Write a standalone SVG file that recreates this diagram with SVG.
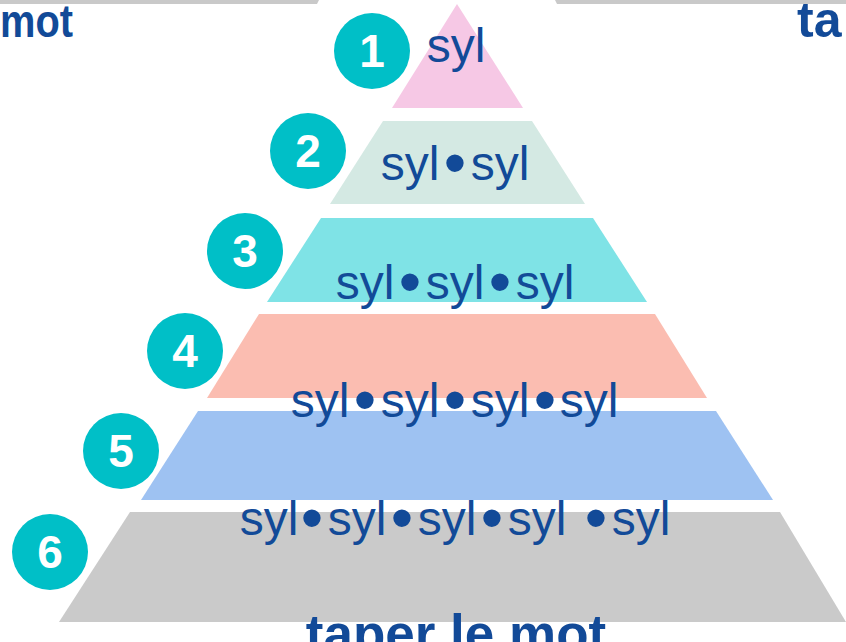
<svg xmlns="http://www.w3.org/2000/svg" width="846" height="642" viewBox="0 0 846 642">
<style>
.syl{font-family:"Liberation Sans",Arial,sans-serif;font-size:48px;fill:#124a98;text-anchor:middle}
.dot{font-family:"Liberation Sans",Arial,sans-serif;font-size:64px;fill:#124a98;text-anchor:middle}
.num{font-family:"Liberation Sans",Arial,sans-serif;font-weight:bold;font-size:46px;fill:#ffffff;text-anchor:middle}
.badge{fill:#00bfc7}
.big{font-family:"Liberation Sans",Arial,sans-serif;font-weight:bold;fill:#124a98}
</style>
<rect width="846" height="642" fill="#ffffff"/>
<g id="edges-top">
<polygon points="0,0 319,0 317,4 0,4" fill="#c9c9c9"/>
<polygon points="555,0 846,0 846,4 557,4" fill="#c9c9c9"/>
<text class="big" x="0" y="37" font-size="46" textLength="73" lengthAdjust="spacingAndGlyphs">mot</text>
<text class="big" x="797" y="37" font-size="50">ta</text>
</g>
<g id="tier6">
<polygon points="130,512 780,512 846,622 59,622" fill="#cacaca"/>
<circle class="badge" cx="50" cy="552" r="38"/>
<text class="num" x="50" y="568">6</text>
</g>
<g id="tier5">
<polygon points="198,411 716,411 773,500 141,500" fill="#9ec2f2"/>
<circle class="badge" cx="121" cy="451" r="38"/>
<text class="num" x="121" y="467">5</text>
</g>
<g id="tier4">
<polygon points="259,314 655,314 707,398 207,398" fill="#fbbdb1"/>
<circle class="badge" cx="185" cy="351" r="38"/>
<text class="num" x="185" y="367">4</text>
</g>
<g id="tier3">
<polygon points="321,218 593,218 647,302 267,302" fill="#7fe3e6"/>
<circle class="badge" cx="245" cy="251" r="38"/>
<text class="num" x="245" y="267">3</text>
</g>
<g id="tier2">
<polygon points="383,121 532,121 585,204 330,204" fill="#d4e9e3"/>
<circle class="badge" cx="308" cy="151" r="38"/>
<text class="num" x="308" y="167">2</text>
</g>
<g id="tier1">
<polygon points="457,4 523,108 392,108" fill="#f6c8e5"/>
<circle class="badge" cx="372" cy="51" r="38"/>
<text class="num" x="372" y="67">1</text>
</g>
<g id="labels">
<text class="syl" y="62"><tspan x="456">syl</tspan></text>
<text class="syl" y="180"><tspan x="410">syl</tspan><tspan x="500">syl</tspan></text>
<text class="dot" x="455" y="185">•</text>
<text class="syl" y="299"><tspan x="365">syl</tspan><tspan x="455">syl</tspan><tspan x="545">syl</tspan></text>
<text class="dot" y="304"><tspan x="410">•</tspan><tspan x="500">•</tspan></text>
<text class="syl" y="417"><tspan x="320">syl</tspan><tspan x="410">syl</tspan><tspan x="500">syl</tspan><tspan x="589">syl</tspan></text>
<text class="dot" y="422"><tspan x="365">•</tspan><tspan x="455">•</tspan><tspan x="545">•</tspan></text>
<text class="syl" y="535"><tspan x="269">syl</tspan><tspan x="357">syl</tspan><tspan x="447">syl</tspan><tspan x="537">syl</tspan><tspan x="641">syl</tspan></text>
<text class="dot" y="540"><tspan x="312">•</tspan><tspan x="402">•</tspan><tspan x="492">•</tspan><tspan x="596">•</tspan></text>
<text class="big" x="456" y="652" font-size="53" text-anchor="middle">taper le mot</text>
</g>
</svg>
